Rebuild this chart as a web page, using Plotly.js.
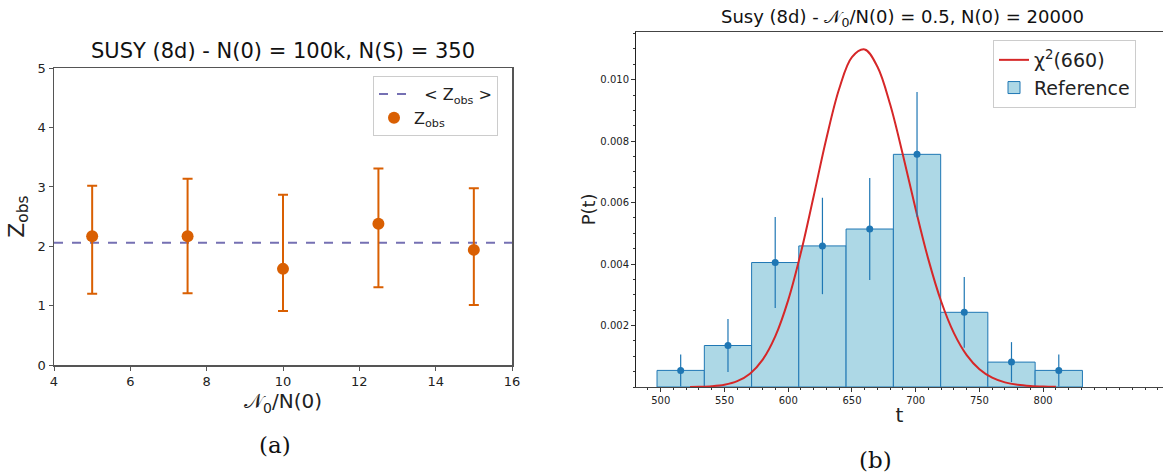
<!DOCTYPE html>
<html>
<head>
<meta charset="utf-8">
<script src="https://cdn.plot.ly/plotly-3.0.1.min.js"></script>
<style>html,body{margin:0;padding:0;background:#fff;}#chart{width:1163px;height:474px;}</style>
</head>
<body>
<div id="chart"></div>
<script>
// ---- Panel (a) data ----
const zRatio = [5, 7.5, 10, 12.5, 15];
const zObs = [2.17, 2.17, 1.62, 2.38, 1.94];
const zErrUp = [0.85, 0.97, 1.25, 0.93, 1.04];
const zErrDown = [0.97, 0.96, 0.71, 1.07, 0.93];
const zMean = 2.06;

// ---- Panel (b) data ----
const binEdges = [497.1, 534.2, 571.3, 608.3, 645.4, 682.5, 719.6, 756.6, 793.7, 830.8];
const refP = [0.00054, 0.00135, 0.00405, 0.00459, 0.00514, 0.00757, 0.00243, 0.00081, 0.00054];
const refErr = [0.00052, 0.00086, 0.00148, 0.00157, 0.00166, 0.00203, 0.00115, 0.00065, 0.00052];
const chiT = [523, 530, 540, 550, 560, 570, 580, 590, 600, 610, 620, 630, 640, 650, 660, 670, 680, 690, 700, 710, 720, 730, 740, 750, 760, 770, 780, 790, 800, 810];
const chiP = [0.000004, 0.0000085, 0.0000267, 0.0000752, 0.000190, 0.000434, 0.000892, 0.001665, 0.002827, 0.004382, 0.006216, 0.008096, 0.009704, 0.010734, 0.010983, 0.010421, 0.009189, 0.007546, 0.005783, 0.004144, 0.002782, 0.001753, 0.001038, 0.000579, 0.000304, 0.000151, 0.000071, 0.000032, 0.000014, 0.000006];

const binCenters = refP.map((_, i) => (binEdges[i] + binEdges[i + 1]) / 2);
const binWidths = refP.map((_, i) => binEdges[i + 1] - binEdges[i]);

const W = 1163, H = 474;
const px = x => x / W;
const py = y => 1 - y / H;

const FONT = 'DejaVu Sans, sans-serif';
const ORANGE = '#d95f02';
const PURPLE = '#7570b3';
const BLUE = '#1f77b4';

const traces = [
  {
    x: [4, 16], y: [zMean, zMean], mode: 'lines', name: '  < Z<sub>obs</sub> >',
    line: {color: PURPLE, width: 2, dash: 'dash'}, xaxis: 'x', yaxis: 'y', legend: 'legend'
  },
  {
    x: zRatio, y: zObs, mode: 'markers', name: 'Z<sub>obs</sub>',
    marker: {color: ORANGE, size: 12},
    error_y: {type: 'data', symmetric: false, array: zErrUp, arrayminus: zErrDown, color: ORANGE, thickness: 2, width: 5},
    xaxis: 'x', yaxis: 'y', legend: 'legend'
  },
  {
    type: 'bar', x: binCenters, y: refP, width: binWidths, name: 'Reference',
    marker: {color: '#add8e6', line: {color: BLUE, width: 1}},
    xaxis: 'x2', yaxis: 'y2', legend: 'legend2'
  },
  {
    x: chiT, y: chiP, mode: 'lines', name: '\u03c7<sup>2</sup>(660)',
    line: {color: '#d62728', width: 2, shape: 'spline'},
    xaxis: 'x2', yaxis: 'y2', legend: 'legend2'
  },
  {
    x: binCenters, y: refP, mode: 'markers', showlegend: false,
    marker: {color: BLUE, size: 7},
    error_y: {type: 'data', array: refErr, color: BLUE, thickness: 1.2, width: 0},
    xaxis: 'x2', yaxis: 'y2'
  }
];

const layout = {
  width: W, height: H,
  margin: {l: 0, r: 0, t: 0, b: 0},
  paper_bgcolor: '#fff', plot_bgcolor: '#fff',
  font: {family: FONT, color: '#222'},
  barmode: 'overlay',
  xaxis: {
    domain: [px(54), px(512)], range: [4, 16], tickvals: [4, 6, 8, 10, 12, 14, 16],
    showgrid: false, zeroline: false, showline: true, mirror: true, linecolor: '#555', linewidth: 1.5,
    ticks: 'outside', ticklen: 4, tickcolor: '#555', tickfont: {size: 13, family: FONT},
    title: {text: '\ud835\udca9<sub>0</sub>/N(0)', font: {size: 20, family: FONT}, standoff: 6},
    anchor: 'y'
  },
  yaxis: {
    domain: [py(365), py(68.3)], range: [0, 5], tickvals: [0, 1, 2, 3, 4, 5],
    showgrid: false, zeroline: false, showline: true, mirror: true, linecolor: '#555', linewidth: 1.5,
    ticks: 'outside', ticklen: 4, tickcolor: '#555', tickfont: {size: 13, family: FONT},
    title: {text: 'Z<sub>obs</sub>', font: {size: 22, family: FONT}, standoff: 7},
    anchor: 'x'
  },
  xaxis2: {
    domain: [px(636), 1], range: [480.6, 894], tickvals: [500, 550, 600, 650, 700, 750, 800],
    showgrid: false, zeroline: false, showline: true, mirror: true, linecolor: '#444', linewidth: 1.2,
    ticks: 'outside', ticklen: 4, tickcolor: '#333', tickfont: {size: 10, family: FONT},
    minor: {dtick: 10, tick0: 0, ticks: 'outside', ticklen: 2, tickcolor: '#333', showgrid: false},
    title: {text: 't', font: {size: 20, family: FONT}, standoff: 2},
    anchor: 'y2'
  },
  yaxis2: {
    domain: [py(387), py(31.7)], range: [0, 0.01156],
    tickvals: [0.002, 0.004, 0.006, 0.008, 0.010], tickformat: '.3f',
    showgrid: false, zeroline: false, showline: true, mirror: false, linecolor: '#222', linewidth: 1,
    ticks: 'outside', ticklen: 4, tickcolor: '#333', tickfont: {size: 10, family: FONT},
    minor: {dtick: 0.0005, tick0: 0, ticks: 'outside', ticklen: 2, tickcolor: '#333', showgrid: false},
    title: {text: 'P(t)', font: {size: 18, family: FONT}, standoff: 0},
    anchor: 'x2'
  },
  legend: {
    x: px(373), y: py(76), xanchor: 'left', yanchor: 'top',
    bgcolor: 'rgba(255,255,255,0.8)', bordercolor: '#ccc', borderwidth: 1,
    font: {size: 16, family: FONT}, tracegroupgap: 0
  },
  legend2: {
    x: px(993), y: py(40), xanchor: 'left', yanchor: 'top',
    bgcolor: 'rgba(255,255,255,0.8)', bordercolor: '#ccc', borderwidth: 1,
    font: {size: 19, family: FONT}, traceorder: 'reversed'
  },
  annotations: [
    {text: 'SUSY (8d) - N(0) = 100k, N(S) = 350', x: px(283), y: py(51), xref: 'paper', yref: 'paper',
     xanchor: 'center', yanchor: 'middle', showarrow: false, font: {size: 21, family: FONT, color: '#111'}},
    {text: 'Susy (8d) - \ud835\udca9<sub>0</sub>/N(0) = 0.5, N(0) = 20000', x: px(902), y: py(18), xref: 'paper', yref: 'paper',
     xanchor: 'center', yanchor: 'middle', showarrow: false, font: {size: 18, family: FONT, color: '#111'}},
    {text: '(a)', x: px(275), y: py(445), xref: 'paper', yref: 'paper', xanchor: 'center', yanchor: 'middle',
     showarrow: false, font: {size: 23, family: 'DejaVu Serif, serif', color: '#111'}},
    {text: '(b)', x: px(875), y: py(460), xref: 'paper', yref: 'paper', xanchor: 'center', yanchor: 'middle',
     showarrow: false, font: {size: 23, family: 'DejaVu Serif, serif', color: '#111'}}
  ],
  showlegend: true
};

Plotly.newPlot('chart', traces, layout, {staticPlot: true, displayModeBar: false});
</script>
</body>
</html>
